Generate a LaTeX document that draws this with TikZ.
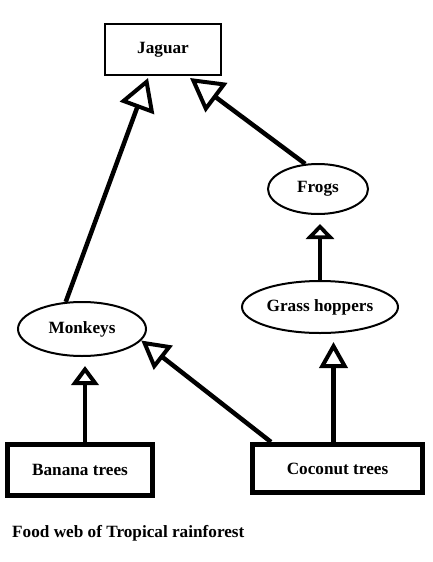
\documentclass[tikz,border=0pt]{standalone}
\usepackage{fontspec}
\setmainfont{Liberation Serif}
\usetikzlibrary{arrows.meta,calc,positioning,shapes.geometric}

\begin{document}
\begin{tikzpicture}[x=1pt,y=-1pt,
  thinbox/.style={draw,line width=2pt,inner sep=0pt,minimum width=116pt,minimum height=51pt,font=\fontsize{17.2}{19}\selectfont\bfseries},
  plantbox/.style={draw,line width=5pt,inner sep=0pt,font=\fontsize{17.2}{19}\selectfont\bfseries},
  animal/.style={ellipse,draw,line width=2pt,inner sep=0pt,font=\fontsize{17.2}{19}\selectfont\bfseries},
  eats/.style 2 args={line width=4.5pt,-{Triangle[open,line width=4pt,length=#1,width=#2]}}]
  \useasboundingbox (0,0) rectangle (433,562);
  % animals and plants
  \node[thinbox] (jaguar) at (163,49.5) {Jaguar};
  \node[animal,minimum width=100pt,minimum height=50pt] (frogs) at (318,189) {Frogs};
  \node[animal,minimum width=156pt,minimum height=52pt] (hoppers) at (320,307) {Grass hoppers};
  \node[animal,minimum width=128pt,minimum height=54pt] (monkeys) at (82,329) {Monkeys};
  \node[plantbox,minimum width=145pt,minimum height=51pt] (banana) at (80,470) {Banana trees};
  \node[plantbox,minimum width=170pt,minimum height=48pt] (coconut) at (337.5,468.5) {Coconut trees};
  % who eats whom
  \draw[eats={32pt}{36pt}] (monkeys.121) -- ([xshift=-15pt,yshift=-2pt]jaguar.south);
  \draw[eats={33pt}{36pt}] (frogs.117) -- ([xshift=27pt,yshift=-2pt]jaguar.south);
  \draw[eats={15pt}{28pt},shorten >=9pt] (hoppers.north) -- (hoppers.north |- frogs.south);
  \draw[eats={26pt}{28pt},shorten >=8pt] ([xshift=-4pt]coconut.north) -- ([xshift=-4pt]coconut.north |- hoppers.south);
  \draw[eats={28pt}{30pt}] ([xshift=21pt]coconut.north west) -- (monkeys.-11);
  \draw[eats={19pt}{27pt},shorten >=9pt] ([xshift=5pt]banana.north) -- ([xshift=5pt]banana.north |- monkeys.south);
  \node[anchor=base west,inner sep=0pt,font=\fontsize{17.2}{19}\selectfont\bfseries] (title) at (12,537) {Food web of Tropical rainforest};
\end{tikzpicture}
\end{document}
